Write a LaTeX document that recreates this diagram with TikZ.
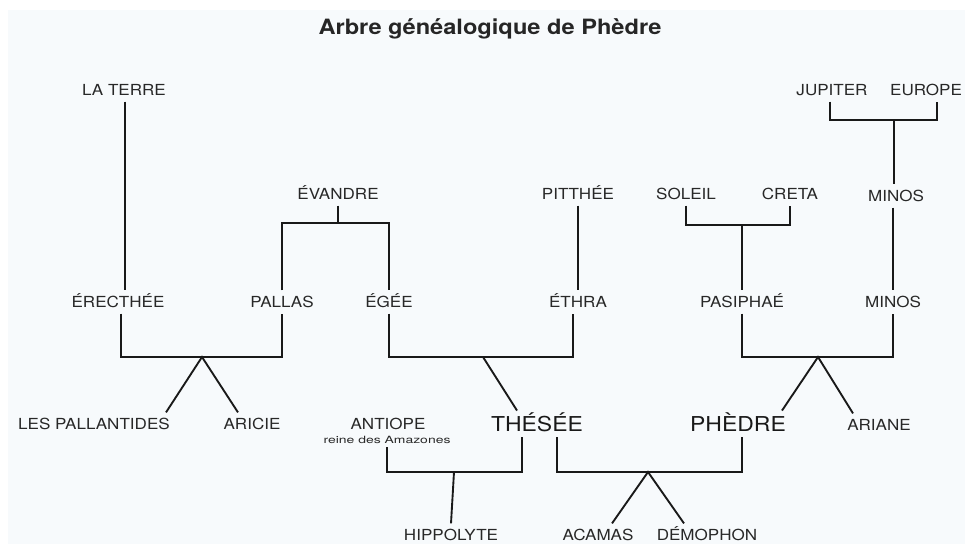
\documentclass[tikz,border=0pt]{standalone}
\usepackage{fontspec}
\setmainfont{TeX Gyre Heros}
\newfontfamily\treefont[FakeStretch=1.12]{TeX Gyre Heros}
\newfontfamily\notefont[FakeStretch=1.4]{TeX Gyre Heros}
\usepackage{xcolor}
\usetikzlibrary{positioning}
\definecolor{paper}{RGB}{247,250,252}
\definecolor{ink}{RGB}{40,40,40}

\begin{document}
\begin{tikzpicture}[x=0.03cm,y=-0.03cm,
  person/.style={font=\treefont\fontsize{13}{15}\selectfont,text=ink,text height=9.4pt,text depth=0pt,inner xsep=1pt,inner ysep=5pt},
  hero/.style={person,font=\treefont\fontsize{17.5}{20}\selectfont,text=black!90,text height=12.6pt},
  note/.style={font=\notefont\fontsize{8.5}{10}\selectfont,text=ink,text height=6pt,text depth=1.6pt,inner ysep=1.5pt},
  link/.style={line width=1.6pt,black!90}]
\fill[white] (0,0) rectangle (965,544);
\fill[paper] (8,10) rectangle (965,544);
\clip (0,0) rectangle (965,544);

\node[font=\treefont\bfseries\fontsize{18}{22}\selectfont,text=black!85,anchor=base] (title) at (490,35) {Arbre généalogique de Phèdre};

% ancestors
\node[person] (laterre) at (124,90) {LA TERRE};
\node[person] (jupiter) at (832,90) {JUPITER};
\node[person] (europe) at (926,90) {EUROPE};
\node[person] (evandre) at (338,194) {ÉVANDRE};
\node[person] (pitthee) at (578,194) {PITTHÉE};
\node[person] (soleil) at (686,194) {SOLEIL};
\node[person] (creta) at (790,194) {CRETA};
\node[person] (minostop) at (896,196) {MINOS};

% parents
\node[person] (erecthee) at (118,302) {ÉRECTHÉE};
\node[person] (pallas) at (282,302) {PALLAS};
\node[person] (egee) at (389,302) {ÉGÉE};
\node[person] (ethra) at (578,302) {ÉTHRA};
\node[person] (pasiphae) at (742,302) {PASIPHAÉ};
\node[person] (minos) at (893,302) {MINOS};

% children
\node[person] (pallantides) at (94,424) {LES PALLANTIDES};
\node[person] (aricie) at (252,424) {ARICIE};
\node[person] (antiope) at (388,424) {ANTIOPE};
\node[note] (reine) at (387,441) {reine des Amazones};
\node[hero] (thesee) at (537,424) {THÉSÉE};
\node[hero] (phedre) at (738,424) {PHÈDRE};
\node[person] (ariane) at (879,425) {ARIANE};
\node[person] (hippolyte) at (451,535) {HIPPOLYTE};
\node[person] (acamas) at (598,535) {ACAMAS};
\node[person] (demophon) at (707,535) {DÉMOPHON};

\coordinate (evfork) at (338,223);
\coordinate (scfork) at (742,225);
\coordinate (jefork) at (894,120);
\coordinate (epfork) at (202,357);
\coordinate (eefork) at (483,357);
\coordinate (pmfork) at (818,357);
\coordinate (tafork) at (454,472);
\coordinate (tpfork) at (648,472);

\draw[link] ([shift={(1,0)}]laterre.south) -- ([shift={(1,0)}]laterre.south |- erecthee.north);
\draw[link] (evandre.south) -- (evfork);
\draw[link] (pallas.north) |- (evfork) -| (egee.north);
\draw[link] (pitthee.south) -- (pitthee.south |- ethra.north);
\draw[link] ([shift={(-2,0)}]jupiter.south) |- (jefork) -| ([shift={(11,0)}]europe.south);
\draw[link] (soleil.south) |- (scfork) -| (creta.south);
\draw[link] (scfork) -- (scfork |- pasiphae.north);
\draw[link] (jefork) -- (jefork |- minostop.north);
\draw[link] (minos.north |- minostop.south) -- (minos.north);

% couples and their children
\draw[link] ([shift={(3,0)}]erecthee.south) |- (epfork) -| (pallas.south);
\draw[link] ([shift={(72,0)}]pallantides.north) -- (epfork) -- ([shift={(-14,0)}]aricie.north);
\draw[link] (egee.south) |- (eefork) -| ([shift={(-5,0)}]ethra.south);
\draw[link] (eefork) -- ([shift={(-20,0)}]thesee.north);
\draw[link] (pasiphae.south) |- (pmfork) -| (minos.south);
\draw[link] ([shift={(44,0)}]phedre.north) -- (pmfork) -- ([shift={(-26,0)}]ariane.north);
\draw[link] (reine.south) |- (tafork) -| ([shift={(-15,0)}]thesee.south);
\draw[link] (tafork) -- (hippolyte.north);
\draw[link] ([shift={(20,0)}]thesee.south) |- (tpfork) -| ([shift={(4,0)}]phedre.south);
\draw[link] ([shift={(14,0)}]acamas.north) -- (tpfork) -- ([shift={(-23,0)}]demophon.north);
\end{tikzpicture}
\end{document}
